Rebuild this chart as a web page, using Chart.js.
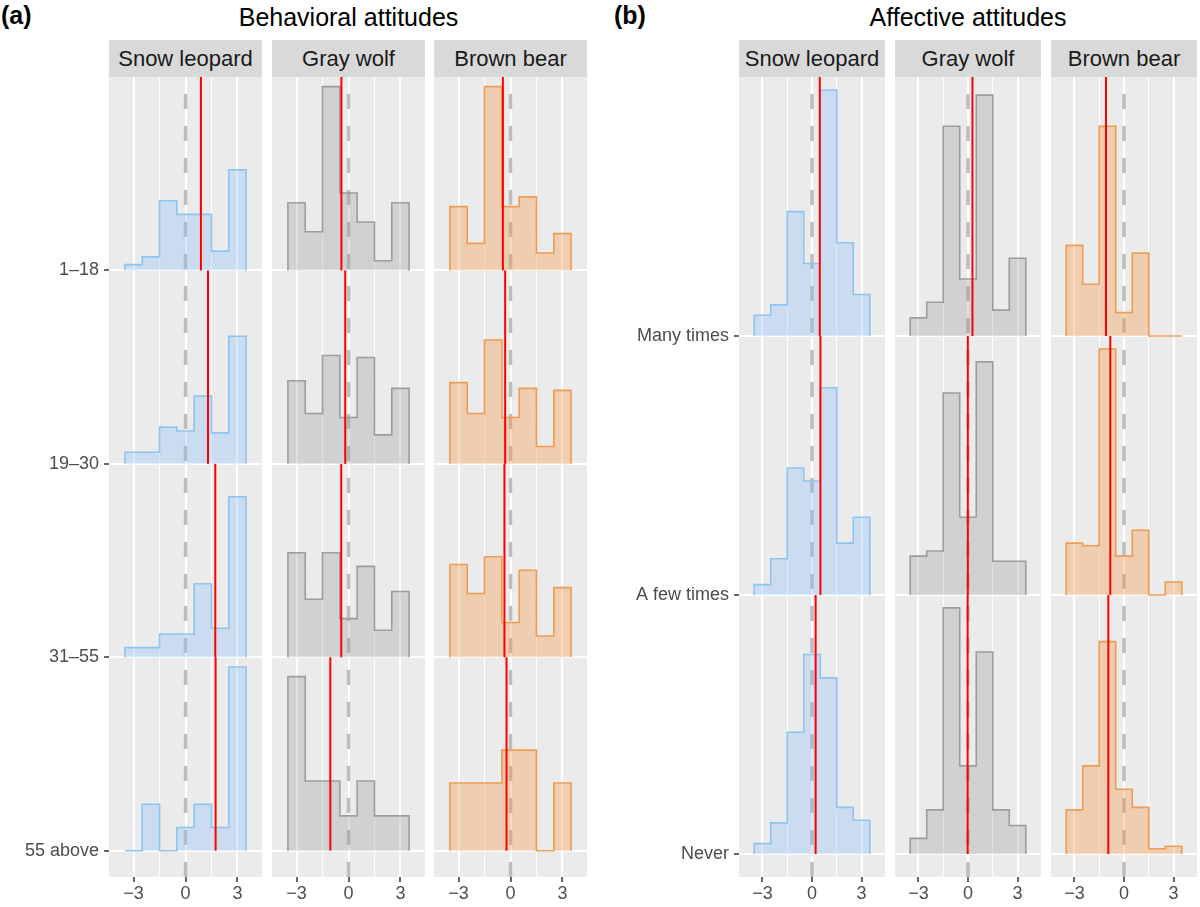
<!DOCTYPE html>
<html>
<head>
<meta charset="utf-8">
<script src="https://cdn.jsdelivr.net/npm/chart.js@4.4.1/dist/chart.umd.min.js"></script>
<style>
  body {
    margin: 0;
    width: 1200px;
    height: 907px;
    background: #fff;
    position: relative;
    overflow: hidden;
    font-family: "Liberation Sans", Arial, sans-serif;
  }
  .abs { position: absolute; }
  .tag { font-weight: bold; font-size: 25px; line-height: 30px; top: 0; }
  .title { font-size: 25px; line-height: 30px; top: 2px; text-align: center; white-space: nowrap; }
  .strip {
    top: 40px;
    height: 37px;
    line-height: 37px;
    background: #d9d9d9;
    color: #1a1a1a;
    font-size: 22px;
    text-align: center;
    white-space: nowrap;
  }
</style>
</head>
<body>
<div class="abs tag" style="left:1px">(a)</div>
<div class="abs title" style="left:109px;width:479px">Behavioral attitudes</div>
<div class="abs tag" style="left:614px">(b)</div>
<div class="abs title" style="left:739px;width:458px">Affective attitudes</div>

<script>
const species = ["Snow leopard", "Gray wolf", "Brown bear"];
const ageGroups = ["1–18", "19–30", "31–55", "55 above"];
const visitGroups = ["Many times", "A few times", "Never"];
const binEdges = [-3.5, -2.5, -1.5, -0.5, 0.5, 1.5, 2.5, 3.5];
const majorTicks = [-3, 0, 3];
const minorTicks = [-1.5, 1.5];

// bin heights (in row heights), rows listed top to bottom
const behavSnow = [
  [0.03, 0.07, 0.36, 0.29, 0.29, 0.10, 0.52],
  [0.06, 0.06, 0.19, 0.17, 0.35, 0.16, 0.66],
  [0.05, 0.05, 0.12, 0.12, 0.38, 0.15, 0.83],
  [0.00, 0.24, 0.00, 0.12, 0.24, 0.12, 0.95],
];
const behavWolf = [
  [0.35, 0.20, 0.95, 0.40, 0.25, 0.05, 0.35],
  [0.43, 0.26, 0.56, 0.24, 0.55, 0.15, 0.39],
  [0.54, 0.30, 0.54, 0.20, 0.47, 0.14, 0.34],
  [0.90, 0.36, 0.36, 0.18, 0.36, 0.18, 0.18],
];
const behavBear = [
  [0.33, 0.14, 0.95, 0.33, 0.38, 0.09, 0.19],
  [0.42, 0.26, 0.64, 0.24, 0.39, 0.09, 0.38],
  [0.48, 0.33, 0.52, 0.18, 0.45, 0.11, 0.36],
  [0.35, 0.35, 0.35, 0.52, 0.52, 0.00, 0.35],
];
const affectSnow = [
  [0.08, 0.12, 0.48, 0.28, 0.95, 0.36, 0.16],
  [0.04, 0.14, 0.49, 0.44, 0.80, 0.20, 0.30],
  [0.04, 0.12, 0.47, 0.77, 0.68, 0.18, 0.13],
];
const affectWolf = [
  [0.07, 0.13, 0.81, 0.22, 0.93, 0.10, 0.30],
  [0.15, 0.17, 0.78, 0.30, 0.90, 0.13, 0.13],
  [0.06, 0.17, 0.95, 0.34, 0.78, 0.17, 0.11],
];
const affectBear = [
  [0.35, 0.20, 0.81, 0.09, 0.32, 0.00, 0.00],
  [0.20, 0.19, 0.95, 0.15, 0.25, 0.00, 0.05],
  [0.17, 0.34, 0.82, 0.25, 0.18, 0.02, 0.03],
];

// group means (red lines)
const behavSnowMean = [0.89, 1.30, 1.72, 1.74];
const behavWolfMean = [-0.41, -0.19, -0.42, -1.05];
const behavBearMean = [-0.44, -0.31, -0.35, -0.23];
const affectSnowMean = [0.47, 0.51, 0.22];
const affectWolfMean = [0.27, -0.01, -0.02];
const affectBearMean = [-1.09, -0.83, -0.95];

const lineColors = ["#8ec4f2", "#9d9d9d", "#ee9d52"];
const fillColors = ["rgba(130,185,255,0.3)", "rgba(150,150,150,0.3)", "rgba(245,150,70,0.35)"];
const fontFamily = "'Liberation Sans', Arial, sans-serif";

const panelBg = {
  id: "panelBg",
  beforeDraw(chart) {
    const { ctx, chartArea: a } = chart;
    ctx.save();
    ctx.fillStyle = "#ebebeb";
    ctx.fillRect(a.left, a.top, a.width, a.height);
    ctx.restore();
  },
};

function fmt(v) {
  return v < 0 ? "\u2212" + Math.abs(v) : String(v);
}

function histPoints(heights, base) {
  const last = binEdges.length - 1;
  const pts = [{ x: binEdges[0], y: base }];
  heights.forEach((h, i) => pts.push({ x: binEdges[i], y: base + h }));
  pts.push({ x: binEdges[last], y: base + heights[heights.length - 1] });
  pts.push({ x: binEdges[last], y: base });
  return pts;
}

function noPadding(ax) {
  ax.paddingTop = 0;
  ax.paddingBottom = 0;
  ax.paddingLeft = 0;
  ax.paddingRight = 0;
}

function drawFacet(cfg) {
  const strip = document.createElement("div");
  strip.className = "abs strip";
  strip.style.left = cfg.left + "px";
  strip.style.width = cfg.width + "px";
  strip.textContent = species[cfg.sp];
  document.body.appendChild(strip);

  const canvas = document.createElement("canvas");
  canvas.className = "abs";
  canvas.width = cfg.width + cfg.axisW;
  canvas.height = 800 + 30;
  canvas.style.left = cfg.left - cfg.axisW + "px";
  canvas.style.top = "77px";
  document.body.appendChild(canvas);

  const n = cfg.groups.length;
  const datasets = [];
  datasets.push({
    data: [{ x: 0, y: cfg.yMin }, { x: 0, y: cfg.yMax }],
    borderColor: "#bdbdbd",
    borderWidth: 3.5,
    borderDash: [15, 17],
    pointRadius: 0,
    fill: false,
    order: 3,
  });
  cfg.heights.forEach((h, i) => {
    const base = n - i;
    datasets.push({
      data: histPoints(h, base),
      stepped: "before",
      borderColor: lineColors[cfg.sp],
      backgroundColor: fillColors[cfg.sp],
      borderWidth: 1.6,
      pointRadius: 0,
      fill: { value: base },
      order: 2,
    });
    datasets.push({
      data: [{ x: cfg.means[i], y: base }, { x: cfg.means[i], y: base + 1 }],
      borderColor: "#ff0000",
      borderWidth: 2,
      pointRadius: 0,
      fill: false,
      order: 1,
    });
  });

  new Chart(canvas, {
    type: "line",
    data: { datasets },
    plugins: [panelBg],
    options: {
      responsive: false,
      animation: false,
      layout: { padding: 0 },
      plugins: { legend: { display: false }, tooltip: { enabled: false } },
      scales: {
        x: {
          type: "linear",
          min: -4.42,
          max: 4.42,
          afterBuildTicks: (ax) => {
            ax.ticks = [...majorTicks, ...minorTicks]
              .sort((a, b) => a - b)
              .map((v) => ({ value: v }));
          },
          afterFit: (ax) => {
            ax.height = 30;
            noPadding(ax);
          },
          border: { display: false },
          grid: {
            color: "#ffffff",
            lineWidth: (c) => (c.tick && majorTicks.includes(c.tick.value) ? 2 : 1),
            tickLength: 5,
            tickWidth: 1.5,
            tickColor: (c) =>
              c.tick && majorTicks.includes(c.tick.value) ? "#333333" : "rgba(0,0,0,0)",
          },
          ticks: {
            autoSkip: false,
            maxRotation: 0,
            padding: 1,
            color: "#4d4d4d",
            font: { size: 18, family: fontFamily },
            callback: (v) => (majorTicks.includes(v) ? fmt(v) : ""),
          },
        },
        y: {
          type: "linear",
          min: cfg.yMin,
          max: cfg.yMax,
          afterBuildTicks: (ax) => {
            ax.ticks = cfg.groups.map((g, i) => ({ value: i + 1 }));
          },
          afterFit: (ax) => {
            ax.width = cfg.axisW;
            noPadding(ax);
          },
          border: { display: false },
          grid: {
            color: "#ffffff",
            lineWidth: 2,
            drawTicks: cfg.axisW > 0,
            tickLength: 5,
            tickWidth: 1.5,
            tickColor: "#333333",
          },
          ticks: {
            display: cfg.axisW > 0,
            padding: 5,
            color: "#4d4d4d",
            font: { size: 18, family: fontFamily },
            callback: (v) => cfg.groups[n - v],
          },
        },
      },
    },
  });
}

const behavHeights = [behavSnow, behavWolf, behavBear];
const behavMeans = [behavSnowMean, behavWolfMean, behavBearMean];
const affectHeights = [affectSnow, affectWolf, affectBear];
const affectMeans = [affectSnowMean, affectWolfMean, affectBearMean];

[109, 272, 434].forEach((left, sp) => {
  drawFacet({
    sp, left, width: 153, axisW: sp === 0 ? 109 : 0,
    groups: ageGroups, heights: behavHeights[sp], means: behavMeans[sp],
    yMin: 0.864, yMax: 5,
  });
});

[739, 895, 1051].forEach((left, sp) => {
  drawFacet({
    sp, left, width: 146, axisW: sp === 0 ? 110 : 0,
    groups: visitGroups, heights: affectHeights[sp], means: affectMeans[sp],
    yMin: 0.911, yMax: 4,
  });
});
</script>
</body>
</html>
